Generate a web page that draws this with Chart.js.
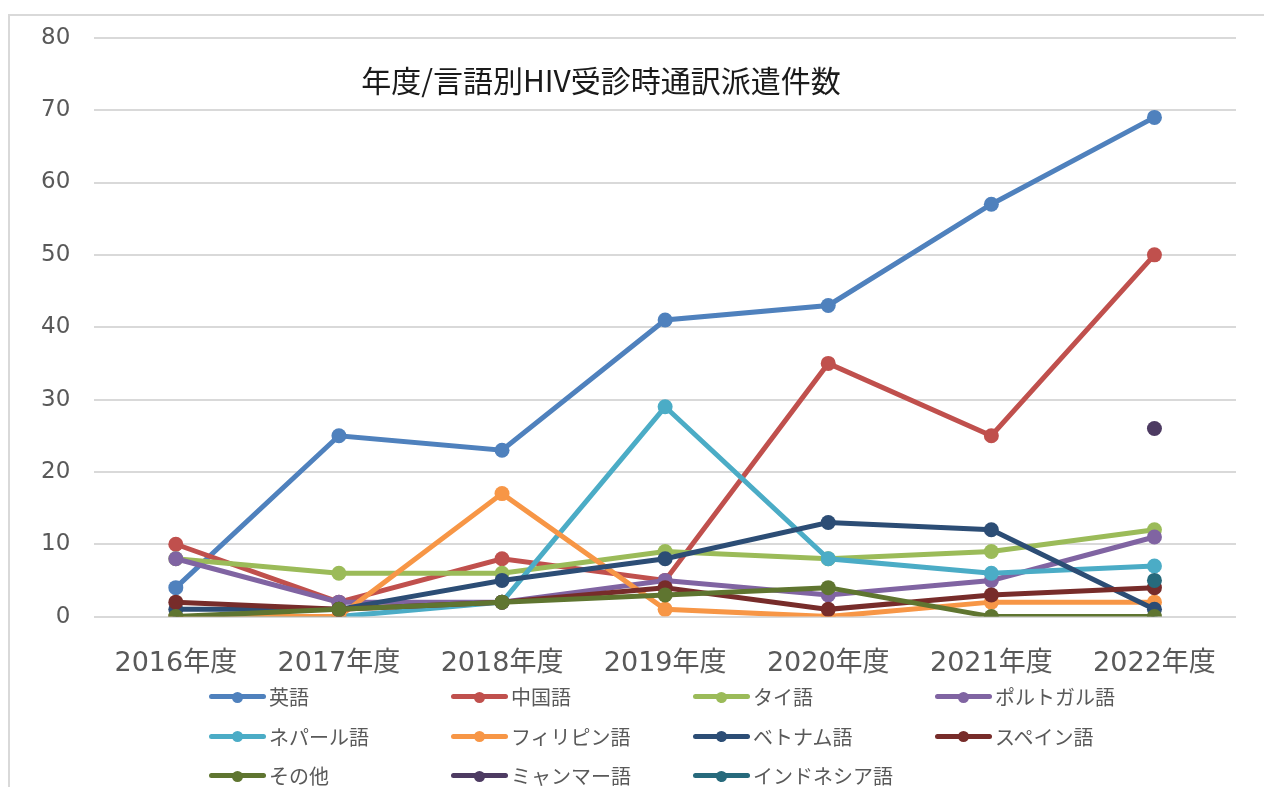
<!DOCTYPE html>
<html>
<head>
<meta charset="utf-8">
<script src="https://cdn.jsdelivr.net/npm/chart.js@4/dist/chart.umd.min.js"></script>
<style>
  html, body { margin: 0; padding: 0; background: #fff; overflow: hidden; }
  #wrap { position: relative; width: 1264px; height: 787px; }
  #frame { position: absolute; left: 8px; top: 14px; width: 1300px; height: 800px; border: 2px solid #D9D9D9; box-sizing: border-box; }
  canvas { position: absolute; left: 0; top: 0; }
  #title { position: absolute; left: 0; width: 1202px; top: 59px; text-align: center; font-family: 'Noto Sans CJK JP', sans-serif; font-size: 30px; color: #1a1a1a; line-height: 40px; }
  #legend { position: absolute; left: 209px; top: 677px; display: grid; grid-template-columns: 242px 242px 242px 242px; grid-auto-rows: 39.5px; font-family: 'Noto Sans CJK JP', sans-serif; font-size: 20px; color: #595959; }
  .item { display: flex; align-items: center; height: 39.5px; }
  .mk { position: relative; width: 57px; height: 12px; margin-right: 3px; }
  .mk .ln { position: absolute; left: 0; top: 3.5px; width: 57px; height: 5px; border-radius: 3px; }
  .mk .dt { position: absolute; left: 23px; top: 1px; width: 11px; height: 11px; border-radius: 50%; }
</style>
</head>
<body>
<div id="wrap">
  <div id="frame"></div>
  <canvas id="c" width="1264" height="787"></canvas>
  <div id="title">年度/言語別HIV受診時通訳派遣件数</div>
  <div id="legend"></div>
</div>
<script>
const categories = ['2016年度','2017年度','2018年度','2019年度','2020年度','2021年度','2022年度'];
const seriesNames = ['英語','中国語','タイ語','ポルトガル語','ネパール語','フィリピン語','ベトナム語','スペイン語','その他','ミャンマー語','インドネシア語'];
const english    = [4, 25, 23, 41, 43, 57, 69];
const chinese    = [10, 2, 8, 5, 35, 25, 50];
const thai       = [8, 6, 6, 9, 8, 9, 12];
const portuguese = [8, 2, 2, 5, 3, 5, 11];
const nepali     = [0, 0, 2, 29, 8, 6, 7];
const filipino   = [0, 0, 17, 1, 0, 2, 2];
const vietnamese = [1, 1, 5, 8, 13, 12, 1];
const spanish    = [2, 1, 2, 4, 1, 3, 4];
const others     = [0, 1, 2, 3, 4, 0, 0];
const myanmar    = [null, null, null, null, null, null, 26];
const indonesian = [null, null, null, null, null, null, 5];
const yTicks = [0, 10, 20, 30, 40, 50, 60, 70, 80];

const seriesData = [english, chinese, thai, portuguese, nepali, filipino, vietnamese, spanish, others, myanmar, indonesian];
const colors = ['#4F81BD','#C0504D','#9BBB59','#8064A2','#4BACC6','#F79646','#2C4D75','#772C2A','#5F7530','#4D3B62','#276A7C'];

const datasets = seriesNames.map((name, i) => ({
  label: name,
  data: seriesData[i],
  borderColor: colors[i],
  backgroundColor: colors[i],
  pointBackgroundColor: colors[i],
  pointBorderColor: colors[i],
  borderWidth: 5,
  pointRadius: 7.5,
  pointBorderWidth: 0,
  tension: 0,
  spanGaps: false,
  order: seriesNames.length - i
}));

const tickFont = "'DejaVu Sans', 'Noto Sans CJK JP', sans-serif";

new Chart(document.getElementById('c'), {
  type: 'line',
  data: { labels: categories, datasets },
  options: {
    responsive: false,
    animation: false,
    layout: { padding: { left: 17, right: 28, top: 26, bottom: 84 } },
    plugins: { legend: { display: false }, title: { display: false }, tooltip: { enabled: false } },
    scales: {
      x: {
        offset: true,
        grid: { display: false },
        border: { display: false },
        ticks: { color: '#595959', font: { family: tickFont, size: 27 }, padding: 23, maxRotation: 0, autoSkip: false }
      },
      y: {
        min: 0, max: 80,
        afterBuildTicks: (axis) => { axis.ticks = yTicks.map(v => ({ value: v })); },
        grid: { color: '#D9D9D9', lineWidth: 2, drawTicks: false },
        border: { display: false },
        ticks: { color: '#595959', font: { family: tickFont, size: 23 }, padding: 24 }
      }
    }
  }
});

const lg = document.getElementById('legend');
seriesNames.forEach((name, i) => {
  const it = document.createElement('div');
  it.className = 'item';
  it.innerHTML = '<span class="mk"><span class="ln" style="background:' + colors[i] + '"></span><span class="dt" style="background:' + colors[i] + '"></span></span><span>' + name + '</span>';
  lg.appendChild(it);
});
</script>
</body>
</html>
